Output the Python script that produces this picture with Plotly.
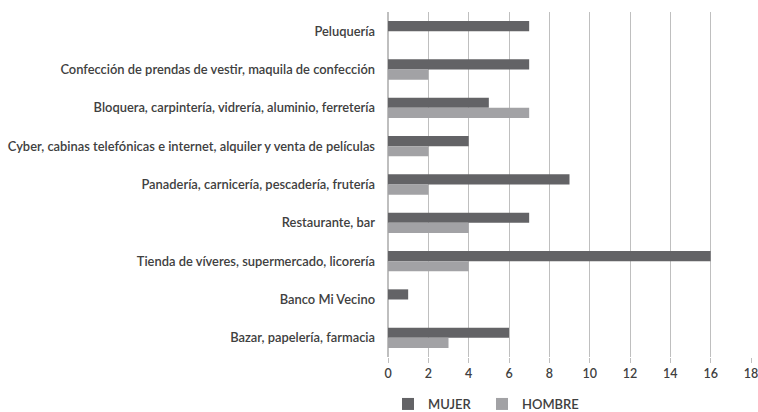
import plotly.graph_objects as go

categories = [
    "Peluquería",
    "Confección de prendas de vestir, maquila de confección",
    "Bloquera, carpintería, vidrería, aluminio, ferretería",
    "Cyber, cabinas telefónicas e internet, alquiler y venta de películas",
    "Panadería, carnicería, pescadería, frutería",
    "Restaurante, bar",
    "Tienda de víveres, supermercado, licorería",
    "Banco Mi Vecino",
    "Bazar, papelería, farmacia",
]
mujer = [7, 7, 5, 4, 9, 7, 16, 1, 6]
hombre = [0, 2, 7, 2, 2, 4, 4, 0, 3]
x_ticks = [0, 2, 4, 6, 8, 10, 12, 14, 16, 18]

fig = go.Figure()
fig.add_trace(go.Bar(y=categories, x=mujer, name="MUJER", orientation="h",
                     marker=dict(color="#636366", line=dict(width=0)), legend="legend"))
fig.add_trace(go.Bar(y=categories, x=hombre, name="HOMBRE", orientation="h",
                     marker=dict(color="#a2a2a5", line=dict(width=0)), legend="legend2"))

W, H = 758, 412
leg_common = dict(orientation="h", xref="container", yref="container",
                  xanchor="left", y=8 / H, yanchor="middle",
                  font=dict(size=13), bgcolor="rgba(0,0,0,0)")

fig.update_layout(
    width=W, height=H,
    margin=dict(l=388, r=7, t=12, b=55),
    showlegend=True,
    barmode="group", bargap=0.47, bargroupgap=0,
    plot_bgcolor="white", paper_bgcolor="white",
    font=dict(family="Lato", size=12.9, color="#404040", weight=600),
    xaxis=dict(range=[0, 18], tickvals=x_ticks, showgrid=True, gridcolor="#bfbfbf",
               gridwidth=1, zeroline=True, zerolinecolor="#bfbfbf", ticks="outside",
               ticklen=5, tickcolor="#bfbfbf", tickfont=dict(size=12.5),
               automargin=False, ticklabelstandoff=0, ticklabeloverflow="allow"),
    yaxis=dict(autorange="reversed", showgrid=False, ticks="", ticklabelstandoff=12,
               automargin=False),
    legend=dict(x=388 / W, **leg_common),
    legend2=dict(x=482 / W, **leg_common),
)
fig.write_html("out.html", config={"displayModeBar": False},
               post_script="document.body.style.margin='0';")
